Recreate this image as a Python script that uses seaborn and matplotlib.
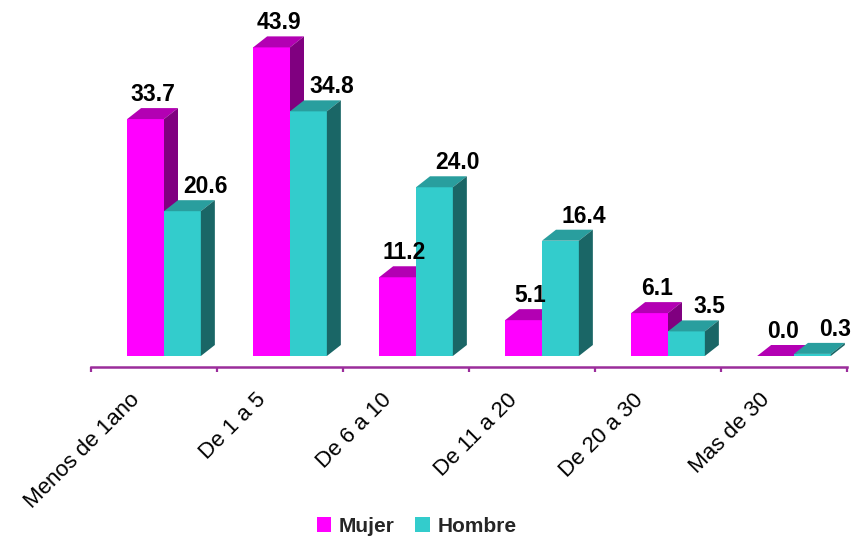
import matplotlib
matplotlib.use("Agg")
import matplotlib.pyplot as plt
from matplotlib.patches import Polygon, Patch
from matplotlib.colors import to_hex
from matplotlib.transforms import ScaledTranslation
import pandas as pd
import seaborn as sns

# --- datos ---------------------------------------------------------------
categorias = ["Menos de 1ano", "De 1 a 5", "De 6 a 10", "De 11 a 20", "De 20 a 30", "Mas de 30"]
mujer = [33.7, 43.9, 11.2, 5.1, 6.1, 0.0]
hombre = [20.6, 34.8, 24.0, 16.4, 3.5, 0.3]
series = ["Mujer", "Hombre"]

# colores de cada cara de la columna: frente, tapa, lateral
caras = {
    "Mujer": ("#FF00FF", "#B300B3", "#800080"),
    "Hombre": ("#33CCCC", "#299E9E", "#1A6666"),
}
eje_color = "#9B2D9B"

df = pd.DataFrame({
    "Antiguedad": categorias * 2,
    "Porcentaje": mujer + hombre,
    "Sexo": ["Mujer"] * len(categorias) + ["Hombre"] * len(categorias),
})

sns.set_theme(style="white")
plt.rcParams["font.family"] = ["Liberation Sans", "DejaVu Sans"]

# --- geometría de la figura (en píxeles) ----------------------------------
DPI = 100
W, H = 862, 543
AX_L, AX_R, AX_B, AX_T = 91, 847, 367, 20
PX_POR_UNIDAD = 7.03          # escala vertical
PROF_X, PROF_Y = 14, 11       # profundidad del efecto 3D
DESPLAZ = 10                  # corrimiento del grupo respecto al centro de la categoría

fig = plt.figure(figsize=(W / DPI, H / DPI), dpi=DPI)
fig.patch.set_facecolor("white")
ax = fig.add_axes([AX_L / W, (H - AX_B) / H, (AX_R - AX_L) / W, (AX_B - AX_T) / H])

sns.barplot(
    data=df, x="Antiguedad", y="Porcentaje", hue="Sexo",
    order=categorias, hue_order=series,
    palette={s: caras[s][0] for s in series}, saturation=1,
    width=0.585, errorbar=None, linewidth=0, legend=False, ax=ax,
)

n = len(categorias)
px_x = (AX_R - AX_L) / n
y0 = -PROF_Y / PX_POR_UNIDAD
ax.set_xlim(-0.5, n - 0.5)
ax.set_ylim(y0, y0 + (AX_B - AX_T) / PX_POR_UNIDAD)

dx = PROF_X / px_x
dy = PROF_Y / PX_POR_UNIDAD
shift = DESPLAZ / px_x

valores = {"Mujer": mujer, "Hombre": hombre}
off_etiqueta = {"Mujer": 7, "Hombre": 23}
color_serie = {to_hex(caras[s][0]): s for s in series}

for k, cont in enumerate(ax.containers):
    serie = color_serie.get(to_hex(cont.patches[0].get_facecolor()), series[k])
    z = 2 + 2 * series.index(serie)
    _, c_tapa, c_lado = caras[serie]
    for bar, v in zip(cont.patches, valores[serie]):
        bar.set_x(bar.get_x() + shift)
        bar.set_zorder(z)
        bar.set_clip_on(False)
        x0 = bar.get_x()
        x1 = x0 + bar.get_width()
        h = bar.get_height()
        ax.add_patch(Polygon([(x0, h), (x1, h), (x1 + dx, h + dy), (x0 + dx, h + dy)],
                             closed=True, fc=c_tapa, ec="none", zorder=z + 0.5, clip_on=False))
        ax.add_patch(Polygon([(x1, 0), (x1, h), (x1 + dx, h + dy), (x1 + dx, dy)],
                             closed=True, fc=c_lado, ec="none", zorder=z + 0.5, clip_on=False))
        ax.annotate(f"{v:.1f}", xy=(x0 + bar.get_width() / 2, v),
                    xytext=(off_etiqueta[serie] * 0.72, 18 * 0.72), textcoords="offset points",
                    ha="center", va="baseline", fontsize=16.5, fontweight="bold",
                    color="black", annotation_clip=False, zorder=10)

# --- ejes ------------------------------------------------------------------
for lado in ("left", "top", "right"):
    ax.spines[lado].set_visible(False)
ax.spines["bottom"].set_color(eje_color)
ax.spines["bottom"].set_linewidth(1.8)
ax.set_yticks([])
ax.set_xlabel("")
ax.set_ylabel("")
ax.grid(False)

ax.set_xticks(range(n))
ax.set_xticks([i - 0.5 for i in range(n + 1)], minor=True)
ax.tick_params(axis="x", which="minor", direction="out", length=3.8, width=1.6,
               color=eje_color, bottom=True)
ax.tick_params(axis="x", which="major", length=0, pad=16, labelsize=16, labelcolor="black")
ax.set_xticklabels(categorias)
for lbl in ax.get_xticklabels():
    lbl.set_rotation(45)
    lbl.set_ha("right")
    lbl.set_va("top")
    lbl.set_rotation_mode("anchor")
    lbl.set_transform(lbl.get_transform() + ScaledTranslation(-25 / DPI, 0, fig.dpi_scale_trans))

# --- leyenda ---------------------------------------------------------------
manejadores = [Patch(fc=caras[s][0], ec="none") for s in series]
fig.legend(manejadores, series, loc="center", bbox_to_anchor=(416.5 / W, (H - 526) / H),
           ncol=2, frameon=False, prop={"weight": "bold", "size": 15},
           handlelength=0.7, handleheight=0.7, handletextpad=0.35,
           columnspacing=1.0, borderaxespad=0)

fig.savefig("out.png", dpi=DPI, facecolor="white")
